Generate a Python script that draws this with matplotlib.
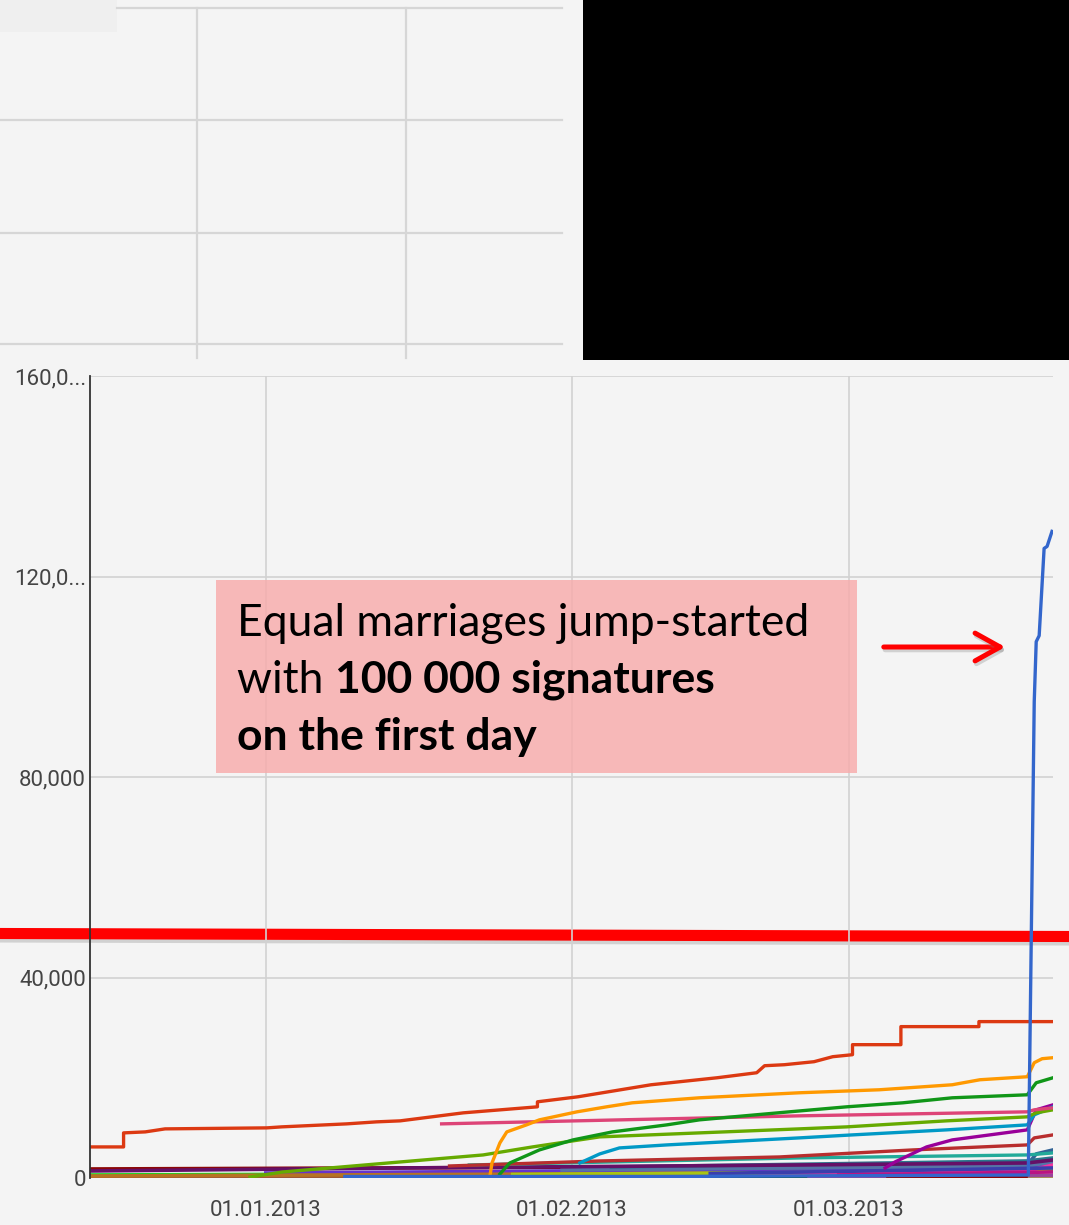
import numpy as np
import matplotlib
matplotlib.use("Agg")
import matplotlib.pyplot as plt
import matplotlib.dates as mdates
import matplotlib.patheffects as pe
from matplotlib.patches import Rectangle, FancyArrowPatch
from datetime import datetime

# day offsets from 01.01.2013, values = signatures
red_days = [-17.8, -14.4, -14.4, -12.2, -10.2, 0.1, 1.6, 8.2, 11.2, 13.6, 20.0, 27.5, 27.5,
            31.6, 39.0, 45.7, 49.7, 50.5, 52.5, 55.5, 57.4, 59.4, 59.4, 64.3, 64.3, 72.2, 72.2, 79.7]
red_vals = [6200, 6200, 9000, 9200, 9800, 10000, 10200, 10800, 11200, 11400, 13000, 14200, 15200,
            16200, 18600, 20000, 21000, 22400, 22600, 23200, 24200, 24600, 26600, 26600, 30200, 30200, 31200, 31200]

blue_days = [8.0, 40.0, 77.2, 77.5, 77.8, 78.0, 78.3, 78.8, 79.1, 79.6]
blue_vals = [300, 300, 600, 48000, 95000, 107000, 108200, 125600, 126000, 129000]

orange_days = [22.7, 22.9, 23.7, 24.4, 26.4, 27.7, 31.5, 34.5, 37.1, 43.9, 54.0, 62.1, 69.5, 72.3, 77.1, 77.8, 78.6, 79.7]
orange_vals = [500, 3000, 7000, 9200, 10600, 11600, 13200, 14200, 15000, 16000, 17000, 17600, 18600, 19600, 20200, 23000, 23800, 24000]

green_days = [23.7, 24.7, 27.7, 31.1, 35.1, 40.6, 43.9, 47.3, 53.0, 58.8, 64.5, 69.5, 77.1, 78.0, 79.7]
green_vals = [800, 3000, 5600, 7600, 9200, 10600, 11600, 12200, 13200, 14200, 15000, 16000, 16600, 19000, 20000]

pink_days = [17.8, 54.0, 77.1, 77.8, 79.7]
pink_vals = [10800, 12400, 13200, 13600, 14000]

lime_days = [-1.6, 1.7, 13.6, 22.0, 27.0, 33.8, 54.0, 58.8, 68.9, 77.1, 78.0, 79.7]
lime_vals = [200, 1200, 3200, 4600, 6200, 8200, 9800, 10200, 11400, 12200, 13000, 13600]

cyan_days = [31.8, 33.8, 35.8, 40.6, 54.0, 59.4, 68.9, 77.1, 77.8, 79.7]
cyan_vals = [3000, 4800, 6000, 6600, 8000, 8600, 9600, 10600, 12600, 14200]

purple_days = [62.7, 63.7, 66.9, 69.5, 77.1, 78.0, 79.7]
purple_vals = [2000, 3200, 6200, 7600, 9600, 13600, 14600]

darkred_days = [18.6, 33.8, 52.0, 65.5, 77.1, 77.8, 79.7]
darkred_vals = [2400, 3400, 4200, 5600, 6600, 8000, 8600]

teal_days = [20.6, 54.0, 77.1, 79.7]
teal_vals = [2600, 4000, 4600, 5000]

plum_days = [-17.8, 13.6, 54.0, 77.1, 79.7]
plum_vals = [1400, 2000, 2600, 3000, 3600]

# smaller petitions in the bottom band
low_series = [
    ("#8b0707", [-17.8, 40.0, 77.1, 79.7], [1800, 2200, 2800, 3400]),
    ("#316395", [40.0, 77.1, 78.0, 79.7], [1800, 2600, 4800, 5600]),
    ("#16d620", [-17.8, 30.0, 77.1, 79.7], [600, 900, 1400, 2200]),
    ("#9c5935", [-17.6, 8.0], [200, 200]),
    ("#e67300", [10.0, 77.1, 79.7], [800, 1200, 1600]),
    ("#329262", [20.0, 77.1, 79.7], [1200, 1800, 2400]),
    ("#6633cc", [0.0, 77.1, 79.7], [1000, 2000, 2800]),
    ("#5574a6", [30.0, 77.1, 79.7], [1600, 2400, 3200]),
    ("#b77322", [-17.8, 77.1, 79.7], [400, 1200, 1800]),
    ("#a9c413", [25.0, 77.1, 79.7], [700, 1400, 2000]),
    ("#2a778d", [35.0, 77.1, 79.7], [2200, 3400, 4000]),
    ("#f4359e", [50.0, 77.1, 79.7], [500, 1400, 2600]),
    ("#aaaa11", [27.0, 48.0, 79.7], [300, 300, 400]),
    ("#0c5922", [43.0, 55.0], [200, 200]),
    ("#994499", [55.0, 62.0, 79.7], [300, 300, 500]),
    ("#8b0707", [63.0, 77.0], [150, 150]),
    ("#3b3eac", [45.0, 79.7], [900, 2000]),
    ("#b91383", [58.0, 79.7], [600, 1200]),
]

y_ticks = [0, 40000, 80000, 120000, 160000]
y_labels = ["0", "40,000", "80,000", "120,0...", "160,0..."]
x_tick_dates = [datetime(2013, 1, 1), datetime(2013, 2, 1), datetime(2013, 3, 1)]

base = mdates.date2num(datetime(2013, 1, 1))
def dd(days):
    return base + np.array(days)

bg = "#f4f4f4"
W, H = 1069, 1225
fig = plt.figure(figsize=(W / 100, H / 100), dpi=100, facecolor=bg)

# overlay in pixel coordinates (behind the chart)
ov = fig.add_axes([0, 0, 1, 1], zorder=0)
ov.set_xlim(0, W)
ov.set_ylim(H, 0)
ov.axis("off")
ov.patch.set_alpha(0)

# fragment of another chart on top
ov.add_patch(Rectangle((0, 0), 117, 32, color="#efefef", lw=0))
gc = "#d6d6d6"
ov.plot([117, 562], [8, 8], color=gc, lw=1.6)
for yy in [120, 233, 344]:
    ov.plot([0, 562], [yy, yy], color=gc, lw=1.6)
for xx in [197, 406]:
    ov.plot([xx, xx], [8, 358], color=gc, lw=1.6)
ov.add_patch(Rectangle((583, 0), W - 583, 360, color="black", lw=0))

# thick red line across
ov.plot([0, W], [933.5, 936.5], color="#ff0000", lw=8, solid_capstyle="butt",
        path_effects=[pe.SimpleLineShadow(offset=(0, -2.5), alpha=0.3, shadow_color="gray"), pe.Normal()])

# main chart
ax = fig.add_axes([90 / W, 1 - 1178 / H, (1053 - 90) / W, (1178 - 376) / H], zorder=2)
ax.patch.set_alpha(0)
ax.set_ylim(0, 160000)
ax.set_xlim(dd(-17.8), dd(79.7))

for c, d, v in low_series:
    ax.plot(dd(d), v, color=c, lw=2.6, solid_joinstyle="round")
ax.plot(dd(plum_days), plum_vals, color="#651067", lw=2.6)
ax.plot(dd(teal_days), teal_vals, color="#22aa99", lw=2.4)
ax.plot(dd(darkred_days), darkred_vals, color="#b82e2e", lw=2.4)
ax.plot(dd(purple_days), purple_vals, color="#990099", lw=2.4)
ax.plot(dd(cyan_days), cyan_vals, color="#0099c6", lw=2.4)
ax.plot(dd(lime_days), lime_vals, color="#66aa00", lw=2.4)
ax.plot(dd(pink_days), pink_vals, color="#dd4477", lw=2.4)
ax.plot(dd(green_days), green_vals, color="#109618", lw=2.4)
ax.plot(dd(orange_days), orange_vals, color="#ff9900", lw=2.4)
ax.plot(dd(red_days), red_vals, color="#dc3912", lw=2.4)
ax.plot(dd(blue_days), blue_vals, color="#3366cc", lw=2.4)

ax.set_yticks(y_ticks)
ax.set_yticklabels(y_labels)
ax.set_xticks(mdates.date2num(x_tick_dates))
ax.xaxis.set_major_formatter(mdates.DateFormatter("%d.%m.%Y"))
ax.grid(True, color="#d2d2d2", lw=1.2)
ax.set_axisbelow(True)
for s in ["top", "right", "bottom"]:
    ax.spines[s].set_visible(False)
ax.spines["left"].set_color("#333333")
ax.spines["left"].set_linewidth(1.3)
ax.tick_params(axis="y", length=0, pad=3, labelsize=16, labelcolor="#444444")
ax.tick_params(axis="x", length=0, pad=16, labelsize=16, labelcolor="#444444")
for lab in ax.get_xticklabels() + ax.get_yticklabels():
    lab.set_fontfamily("Roboto")

# annotation box and arrow (top layer)
top = fig.add_axes([0, 0, 1, 1], zorder=5)
top.set_xlim(0, W)
top.set_ylim(H, 0)
top.axis("off")
top.patch.set_alpha(0)
top.add_patch(Rectangle((216, 580), 641, 193, facecolor=(248 / 255, 171 / 255, 171 / 255), alpha=0.82, lw=0))
fs = 32
top.text(237, 636, "Equal marriages jump-started", fontsize=fs, family="Lato", va="baseline")
t2 = top.text(237, 693, "with ", fontsize=fs, family="Lato", va="baseline")
fig.canvas.draw()
r = fig.canvas.get_renderer()
bb = t2.get_window_extent(r)
x2 = top.transData.inverted().transform((bb.x1, bb.y0))[0]
top.text(x2, 693, "100 000 signatures", fontsize=fs, family="Lato", fontweight="bold", va="baseline")
top.text(237, 750, "on the first day", fontsize=fs, family="Lato", fontweight="bold", va="baseline")

arr = FancyArrowPatch((881, 647), (1008, 647), arrowstyle="->,head_length=0.9,head_width=0.5",
                      mutation_scale=20, color="#ff0000", lw=3.6, capstyle="round", joinstyle="round",
                      path_effects=[pe.SimpleLineShadow(offset=(1, -2), alpha=0.3, shadow_color="gray"), pe.Normal()])
top.add_patch(arr)

fig.savefig("out.png", dpi=100, facecolor=bg)
